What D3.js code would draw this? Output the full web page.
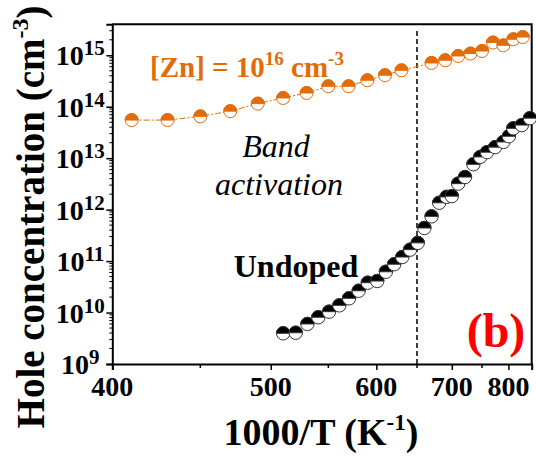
<!DOCTYPE html>
<html>
<head>
<meta charset="utf-8">
<script src="https://cdn.jsdelivr.net/npm/d3@7"></script>
<style>
  body { margin: 0; background: #fff; }
  svg { display: block; }
  text { font-family: "Liberation Serif", "Times New Roman", serif; }
</style>
</head>
<body>
<div id="chart"></div>
<script>
// 1000/T values (axis drawn on reciprocal scale) and hole concentrations (cm^-3)
var zn_x = [410, 430, 450, 470, 490, 510, 530, 550, 570, 590, 610, 630,
            670, 690, 710, 730, 750, 770, 790, 810, 830];
var zn_p = [5.5e13, 5.5e13, 6.5e13, 8.2e13, 1.15e14, 1.48e14, 1.85e14, 2.5e14, 2.5e14, 3.27e14, 4.1e14, 5.1e14,
            7.1e14, 8.0e14, 9.7e14, 1.08e15, 1.21e15, 1.77e15, 1.56e15, 2.05e15, 2.26e15];

var und_x = [510, 520.5, 530.7, 540.6, 550.7, 560.7, 570.5, 580.6, 590.4, 601, 611, 621, 631, 641, 651,
             660, 670, 681, 692, 700, 710, 721, 735, 747, 759, 774, 790, 801, 810, 828, 846];
var und_p = [3.95e9, 4.05e9, 6.0e9, 8.1e9, 1.04e10, 1.38e10, 1.89e10, 2.65e10, 3.8e10, 4.1e10, 6.2e10, 8.7e10, 1.2e11, 1.67e11, 2.26e11,
             4.4e11, 7.4e11, 1.36e12, 1.77e12, 1.83e12, 3.2e12, 4.3e12, 7.6e12, 1.06e13, 1.31e13, 1.64e13, 2.07e13, 2.67e13, 3.8e13, 4.4e13, 6.0e13];

var x_ticks = [400, 500, 600, 700, 800];
var x_minor = [450, 550, 650, 750];
var y_exps = [9, 10, 11, 12, 13, 14, 15];
var boundary = 650;

var width = 536, height = 461;
var orange = '#E36C0A';

var svg = d3.select('#chart').append('svg')
    .attr('width', width)
    .attr('height', height);

var x = d3.scalePow().exponent(-1).domain([400, 850]).range([112.3, 531.7]);
var y = d3.scaleLog().domain([1e9, 4e15]).range([364, 24.3]);

// minor ticks every 1..9 per decade
var y_minor = [];
y_exps.forEach(function(e) {
    for (var k = 2; k <= 9; k++) {
        var v = k * Math.pow(10, e);
        if (v < y.domain()[1]) y_minor.push(v);
    }
});

// frame
svg.append('path')
    .attr('d', 'M' + x.range()[0] + ',' + y.range()[1] + 'H' + x.range()[1] + 'V' + y.range()[0])
    .attr('fill', 'none')
    .attr('stroke', '#000')
    .attr('stroke-width', 2);

// x axis
var xaxis = svg.append('g').attr('transform', 'translate(0,' + y.range()[0] + ')');
xaxis.call(d3.axisBottom(x).tickValues(x_ticks).tickSize(6).tickFormat(''));
xaxis.call(g => g.select('.domain').attr('stroke-width', 2));
xaxis.selectAll('.tick line').attr('stroke-width', 1.5);
xaxis.append('g').selectAll('line').data(x_minor).enter().append('line')
    .attr('x1', d => x(d)).attr('x2', d => x(d))
    .attr('y1', 0).attr('y2', 4)
    .attr('stroke', '#000').attr('stroke-width', 1.5);
xaxis.selectAll('text.lbl').data(x_ticks).enter().append('text')
    .attr('class', 'lbl')
    .attr('x', d => x(d))
    .attr('y', 32)
    .attr('text-anchor', 'middle')
    .attr('font-size', 28)
    .attr('font-weight', 'bold')
    .attr('fill', '#000')
    .text(d => d);

// y axis
var yaxis = svg.append('g').attr('transform', 'translate(' + x.range()[0] + ',0)');
yaxis.call(d3.axisLeft(y).tickValues(y_exps.map(e => Math.pow(10, e))).tickSize(6).tickFormat(''));
yaxis.call(g => g.select('.domain').attr('stroke-width', 2));
yaxis.selectAll('.tick line').attr('stroke-width', 1.5);
yaxis.append('g').selectAll('line').data(y_minor).enter().append('line')
    .attr('x1', 0).attr('x2', -3)
    .attr('y1', d => y(d)).attr('y2', d => y(d))
    .attr('stroke', '#000').attr('stroke-width', 1);
var ylbl = yaxis.selectAll('text.lbl').data(y_exps).enter().append('text')
    .attr('class', 'lbl')
    .attr('x', -32)
    .attr('y', d => y(Math.pow(10, d)) + 10)
    .attr('text-anchor', 'middle')
    .attr('font-weight', 'bold')
    .attr('fill', '#000');
ylbl.append('tspan').attr('font-size', 28).text('10');
ylbl.append('tspan').attr('font-size', 21).attr('dy', -10).text(d => d);

// boundary line
svg.append('line')
    .attr('x1', x(boundary)).attr('x2', x(boundary))
    .attr('y1', 31).attr('y2', y.range()[0])
    .attr('stroke', '#000')
    .attr('stroke-width', 1.5)
    .attr('stroke-dasharray', '5,3');

// half filled markers
function halfMarkers(xs, ps, color, stroke, r) {
    var g = svg.append('g');
    var pts = g.selectAll('g').data(xs.map((d, i) => [d, ps[i]])).enter().append('g')
        .attr('transform', d => 'translate(' + x(d[0]) + ',' + y(d[1]) + ')');
    pts.append('circle').attr('r', r).attr('fill', '#fff').attr('stroke', stroke).attr('stroke-width', 1);
    pts.append('path')
        .attr('d', 'M' + (-r) + ',0A' + r + ',' + r + ' 0 0 1 ' + r + ',0Z')
        .attr('fill', color)
        .attr('stroke', stroke)
        .attr('stroke-width', 1);
}

var line = d3.line().x(d => x(d[0])).y(d => y(d[1]));
svg.append('path')
    .datum(zn_x.map((d, i) => [d, zn_p[i]]))
    .attr('d', line)
    .attr('fill', 'none')
    .attr('stroke', orange)
    .attr('stroke-width', 1)
    .attr('stroke-dasharray', '6,2,2,2');

halfMarkers(zn_x, zn_p, orange, orange, 6.5);
halfMarkers(und_x, und_p, '#000', '#333', 6.7);

// annotations
var zn = svg.append('text')
    .attr('x', 150).attr('y', 77)
    .attr('font-size', 29).attr('font-weight', 'bold')
    .attr('fill', orange);
zn.append('tspan').text('[Zn] = 10');
zn.append('tspan').attr('font-size', 19).attr('dy', -12).text('16');
zn.append('tspan').attr('dy', 12).text(' cm');
zn.append('tspan').attr('font-size', 19).attr('dy', -12).text('-3');

svg.append('text')
    .attr('x', 276).attr('y', 157)
    .attr('text-anchor', 'middle')
    .attr('font-size', 32).attr('font-style', 'italic')
    .text('Band');
svg.append('text')
    .attr('x', 279).attr('y', 195)
    .attr('text-anchor', 'middle')
    .attr('font-size', 32).attr('font-style', 'italic')
    .text('activation');
svg.append('text')
    .attr('x', 296).attr('y', 277)
    .attr('text-anchor', 'middle')
    .attr('font-size', 32).attr('font-weight', 'bold')
    .text('Undoped');
svg.append('text')
    .attr('x', 496).attr('y', 347)
    .attr('text-anchor', 'middle')
    .attr('font-size', 48).attr('font-weight', 'bold')
    .attr('fill', '#FF0000')
    .text('(b)');

// axis titles
var xt = svg.append('text')
    .attr('x', 321).attr('y', 445)
    .attr('text-anchor', 'middle')
    .attr('font-size', 38).attr('font-weight', 'bold');
xt.append('tspan').text('1000/T (K');
xt.append('tspan').attr('font-size', 23).attr('dy', -15).text('-1');
xt.append('tspan').attr('dy', 15).text(')');

var yt = svg.append('text')
    .attr('transform', 'translate(44,217) rotate(-90)')
    .attr('text-anchor', 'middle')
    .attr('font-size', 39).attr('font-weight', 'bold');
yt.append('tspan').text('Hole concentration (cm');
yt.append('tspan').attr('font-size', 24).attr('dy', -16).text('-3');
yt.append('tspan').attr('dy', 16).text(')');
</script>
</body>
</html>
